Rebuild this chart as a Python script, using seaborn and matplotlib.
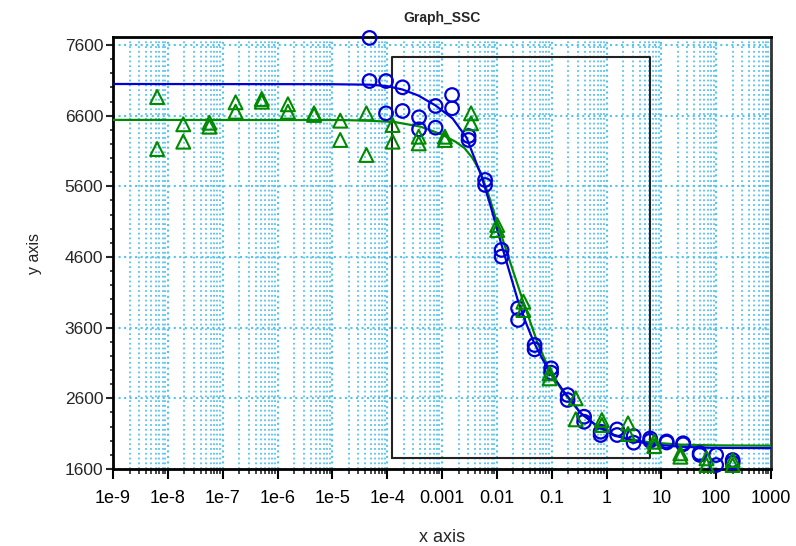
import numpy as np
import pandas as pd
import matplotlib
matplotlib.use("Agg")
import matplotlib.pyplot as plt
import seaborn as sns
from matplotlib.ticker import FixedLocator, NullFormatter, LogLocator, MultipleLocator

# ---------------- data ----------------
blue_conc = [200, 100, 50, 25, 12.5, 6.25, 3.125, 1.5625, 0.78125, 0.390625,
             0.1953, 0.09766, 0.04883, 0.02441, 0.01221, 0.006104, 0.003052,
             0.001526, 0.000763, 0.0003815, 0.0001907, 9.537e-5, 4.768e-5]
blue_rep1 = [1727, 1798, 1825, 1965, 1990, 2032, 2067, 2160, 2128, 2340,
             2647, 3025, 3355, 3874, 4700, 5690, 6312, 6892, 6737, 6577,
             7001, 7090, 7700]
blue_rep2 = [1688, 1656, 1800, 1950, 1975, 2000, 1972, 2081, 2081, 2269,
             2577, 2963, 3293, 3709, 4605, 5619, 6256, 6704, 6430, 6407,
             6666, 6633, 7090]

green_conc = [200, 66.67, 22.22, 7.407, 2.469, 0.823, 0.2743, 0.09145, 0.03048,
              0.01016, 0.003387, 0.001129, 3.763e-4, 1.254e-4, 4.181e-5,
              1.394e-5, 4.646e-6, 1.549e-6, 5.162e-7, 1.721e-7, 5.736e-8,
              1.912e-8, 6.373e-9]
green_rep1 = [1727, 1751, 1822, 1987, 2246, 2293, 2600, 2953, 3967, 5053,
              6633, 6302, 6302, 6468, 6633, 6529, 6633, 6761, 6836, 6789,
              6500, 6478, 6864]
green_rep2 = [1656, 1656, 1774, 1925, 2095, 2223, 2303, 2883, 3850, 4982,
              6492, 6256, 6208, 6232, 6044, 6256, 6610, 6656, 6798, 6656,
              6444, 6232, 6128]

# fitted curves
blue_fit_x = [1e-9, 9.2e-6, 4.9e-5, 9.7e-5, 1.9e-4, 3.7e-4, 7.6e-4, 1.56e-3,
              2.8e-3, 5.26e-3, 7.7e-3, 0.0117, 0.0164, 0.0239, 0.0335, 0.0469,
              0.0686, 0.0959, 0.1656, 0.339, 0.692, 1.356, 2.77, 6.43, 22.7,
              80.2, 1000]
blue_fit_y = [7048, 7045, 7038, 7020, 6970, 6885, 6745, 6560, 6290, 5740,
              5320, 4820, 4430, 4000, 3680, 3400, 3150, 2960, 2700, 2390,
              2200, 2080, 2005, 1950, 1915, 1900, 1895]
green_fit_x = [1e-9, 1.4e-5, 4.18e-5, 1.36e-4, 4.05e-4, 1.02e-3, 1.77e-3,
               2.58e-3, 3.6e-3, 5.05e-3, 7.06e-3, 0.0103, 0.0178, 0.0308,
               0.0555, 0.0959, 0.1656, 0.339, 0.692, 1.356, 2.77, 6.43, 22.7,
               80.2, 1000]
green_fit_y = [6540, 6538, 6530, 6510, 6445, 6330, 6230, 6140, 6000, 5800,
               5480, 5070, 4510, 3950, 3380, 2960, 2680, 2390, 2200, 2085,
               2020, 1975, 1945, 1935, 1930]

box_x = [1.2e-4, 6.17]
box_y = [1760, 7434]

x_ticks = [1e-9, 1e-8, 1e-7, 1e-6, 1e-5, 1e-4, 1e-3, 1e-2, 1e-1, 1, 10, 100, 1000]
x_tick_labels = ["1e-9", "1e-8", "1e-7", "1e-6", "1e-5", "1e-4", "0.001",
                 "0.01", "0.1", "1", "10", "100", "1000"]
y_ticks = [1600, 2600, 3600, 4600, 5600, 6600, 7600]

# ---------------- figure ----------------
sns.set_style("white")
plt.rcParams["font.family"] = ["Liberation Sans", "DejaVu Sans"]

BLUE = "#0000d8"
GREEN = "#008a00"
GRID = "#55c3ee"
NARROW = ["Liberation Sans Narrow", "Liberation Sans", "DejaVu Sans"]

fig = plt.figure(figsize=(7.96, 5.46), dpi=100)
ax = fig.add_axes([113 / 796, 1 - 469 / 546, (771 - 113) / 796, (469 - 37) / 546])

blue_df = pd.DataFrame({"x": blue_conc * 2, "y": blue_rep1 + blue_rep2})
green_df = pd.DataFrame({"x": green_conc * 2, "y": green_rep1 + green_rep2})
bfit = pd.DataFrame({"x": blue_fit_x, "y": blue_fit_y})
gfit = pd.DataFrame({"x": green_fit_x, "y": green_fit_y})

ax.set_xscale("log")

# grid
ax.xaxis.set_minor_locator(LogLocator(base=10, subs=np.arange(2, 10), numticks=100))
ax.grid(True, which="major", axis="both", color=GRID, linestyle=":", linewidth=1.5)
ax.grid(True, which="minor", axis="x", color=GRID, linestyle=":", linewidth=1.3)
ax.set_axisbelow(True)

# fit box
ax.plot([box_x[0], box_x[1], box_x[1], box_x[0], box_x[0]],
        [box_y[0], box_y[0], box_y[1], box_y[1], box_y[0]],
        color="#222222", linewidth=1.5, zorder=2)

sns.lineplot(data=gfit, x="x", y="y", sort=False, estimator=None, color=GREEN,
             linewidth=1.6, ax=ax, zorder=3)
sns.lineplot(data=bfit, x="x", y="y", sort=False, estimator=None, color=BLUE,
             linewidth=1.6, ax=ax, zorder=3)

sns.scatterplot(data=blue_df, x="x", y="y", marker="o", s=95, facecolors="none",
                edgecolor=BLUE, linewidth=1.6, ax=ax, zorder=4, clip_on=False)
sns.scatterplot(data=green_df, x="x", y="y", marker="^", s=100, facecolors="none",
                edgecolor=GREEN, linewidth=1.5, ax=ax, zorder=4, clip_on=False)

ax.set_xlim(1e-9, 1000)
ax.set_ylim(1600, 7713)

ax.xaxis.set_major_locator(FixedLocator(x_ticks))
ax.set_xticklabels(x_tick_labels)
ax.xaxis.set_minor_formatter(NullFormatter())
ax.yaxis.set_major_locator(FixedLocator(y_ticks))
ax.yaxis.set_minor_locator(MultipleLocator(200))

for lab in ax.get_xticklabels():
    lab.set_fontfamily(NARROW)
    lab.set_fontsize(13)
for lab in ax.get_yticklabels():
    lab.set_fontsize(12.5)

ax.tick_params(axis="x", which="major", direction="out", length=7, width=1.5,
               pad=8, colors="black", bottom=True)
ax.tick_params(axis="x", which="minor", direction="out", length=3.5, width=1.2,
               bottom=True)
ax.tick_params(axis="y", which="major", direction="out", length=5, width=1.5,
               pad=2, left=True)
ax.tick_params(axis="y", which="minor", direction="out", length=2.5, width=1.2,
               left=True)

for side in ["left", "bottom", "top"]:
    ax.spines[side].set_color("black")
    ax.spines[side].set_linewidth(2)
ax.spines["right"].set_color("#333333")
ax.spines["right"].set_linewidth(2)

ax.set_title("Graph_SSC", fontsize=10, fontweight="bold", pad=11)
ax.set_xlabel("x axis", fontsize=13, labelpad=16, fontfamily=NARROW)
ax.set_ylabel("y axis", fontsize=11.5, labelpad=16, color="#222222")

fig.savefig("out.png", dpi=100)
